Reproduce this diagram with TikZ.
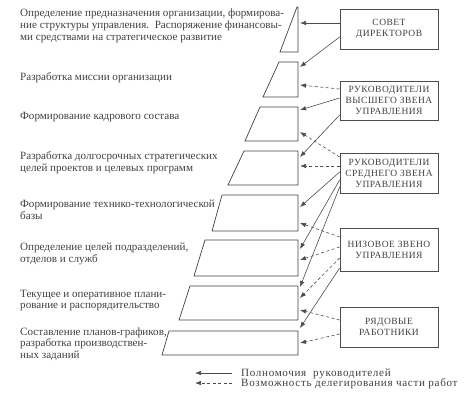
\documentclass[tikz,border=0pt]{standalone}
\usepackage{fontspec}
\setmainfont{Liberation Serif}
\usetikzlibrary{arrows.meta, calc}
\tikzset{
  lvlbox/.style = {draw=black!70, line width=0.7pt, align=center, text=black!75,
                   minimum width=98pt, minimum height=40pt, inner sep=2pt,
                   font=\fontsize{9.5}{11}\selectfont\addfontfeature{LetterSpace=5}},
  task/.style   = {anchor=base west, align=left, inner sep=0pt, text=black!75,
                   font=\fontsize{11.1}{11.6}\selectfont},
  note/.style   = {task, font=\fontsize{11.1}{11.6}\selectfont\addfontfeature{LetterSpace=6}},
  slice/.style  = {draw=black!75, line width=0.7pt},
  auth/.style   = {-{Latex[length=6pt,width=4.5pt]}, draw=black!70, line width=0.6pt},
  deleg/.style  = {auth, dash pattern=on 3pt off 2.5pt}
}

\begin{document}
\begin{tikzpicture}[x=1pt, y=-1pt]
\useasboundingbox (0,0) rectangle (468,403);
% Pyramid slices
\foreach \tl/\bl/\ty/\by in {297/280/7/52, 279/263/62/97, 260/245/107/141,
    244/228/151/185, 222/212/195/231, 205/194/240/276, 190/179/286/320,
    169/162/331/355} {
  \draw[slice] (\tl,\ty) -- (298,\ty) -- (298,\by) -- (\bl,\by) -- cycle;
}
% Tasks of each level (placed by the baseline of the last line)
\node[task] (t1) at (20,40.2) {Определение предназначения организации, формирова-\\
  ние структуры управления.\ \ Распоряжение финансовы-\\
  ми средствами на стратегическое развитие};
\node[task] (t2) at (20,81) {Разработка миссии организации};
\node[task] (t3) at (20,120) {Формирование кадрового состава};
\node[task] (t4) at (20,171.6) {Разработка долгосрочных стратегических\\
  целей проектов и целевых программ};
\node[task] (t5) at (20,219.6) {Формирование технико-технологической\\базы};
\node[task] (t6) at (20,262.6) {Определение целей подразделений,\\отделов и служб};
\node[task] (t7) at (20,308.6) {Текущее и оперативное плани-\\рование и распорядительство};
\node[task] (t8) at (20,358.2) {Составление планов-графиков,\\разработка производствен-\\
  ных заданий};
% Management levels
\node[lvlbox] (sovet) at (389,29) {СОВЕТ\\ДИРЕКТОРОВ};
\node[lvlbox, minimum height=39pt] (vysshee) at (389,100.5)
  {РУКОВОДИТЕЛИ\\ВЫСШЕГО ЗВЕНА\\УПРАВЛЕНИЯ};
\node[lvlbox] (srednee) at (389,173) {РУКОВОДИТЕЛИ\\СРЕДНЕГО ЗВЕНА\\УПРАВЛЕНИЯ};
\node[lvlbox, minimum height=43pt] (nizovoe) at (389,249.5)
  {НИЗОВОЕ ЗВЕНО\\УПРАВЛЕНИЯ};
\node[lvlbox] (ryadovye) at (389,327) {РЯДОВЫЕ\\РАБОТНИКИ};
% Arrow ends on the pyramid
\foreach \n/\y in {a1/23, a2/67, a3/85, a4/110, a5/157, a6/132, a7/166, a8/207,
    a9/249, a10/287, a11/223, a12/260, a13/298, a14/328, a15/310, a16/343} {
  \coordinate (\n) at (300,\y);
}
\draw[auth]  ([yshift=6pt]sovet.west) -- (a1);
\draw[auth]  ([yshift=-8pt]sovet.west) -- (a2);
\draw[deleg] ([yshift=11.5pt]vysshee.west) -- (a3);
\draw[auth]  ([yshift=2.5pt]vysshee.west) -- (a4);
\draw[auth]  ([yshift=-14.5pt]vysshee.west) -- (a5);
\draw[deleg] ([yshift=16pt]srednee.west) -- (a6);
\draw[deleg] ([yshift=7pt]srednee.west) -- (a7);
\draw[auth]  ([yshift=1pt]srednee.west) -- (a8);
\draw[auth]  ([yshift=-7pt]srednee.west) -- (a9);
\draw[auth]  ([yshift=-14pt]srednee.west) -- (a10);
\draw[deleg] ([yshift=12.5pt]nizovoe.west) -- (a11);
\draw[deleg] ([yshift=2.5pt]nizovoe.west) -- (a12);
\draw[deleg] ([yshift=-8.5pt]nizovoe.west) -- (a13);
\draw[auth]  ([yshift=-18.5pt]nizovoe.west) -- (a14);
\draw[deleg] ([yshift=7pt]ryadovye.west) -- (a15);
\draw[deleg] ([yshift=-7pt]ryadovye.west) -- (a16);
% Legend
\node[note] (leg1) at (241,376) {Полномочия\ \ руководителей};
\node[note] (leg2) at (241,386) {Возможность делегирования части работ};
\draw[auth]  ([xshift=-9pt,yshift=3pt]leg1.base west) -- ++(-37,0);
\draw[deleg] ([xshift=-9pt,yshift=3pt]leg2.base west) -- ++(-37,0);
\end{tikzpicture}
\end{document}
